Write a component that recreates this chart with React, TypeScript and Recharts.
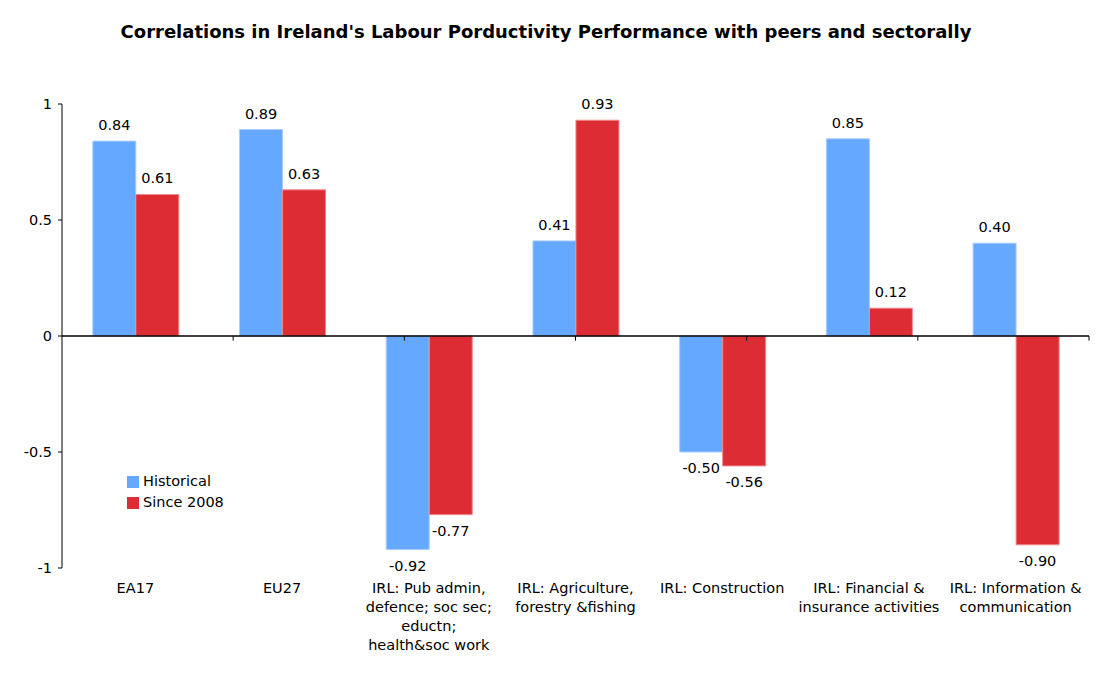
import React from 'react';
import { BarChart, Bar, XAxis, YAxis, Legend, ReferenceLine, LabelList } from 'recharts';

const categories = [
  'EA17',
  'EU27',
  'IRL: Pub admin,\ndefence; soc sec;\neductn;\nhealth&soc work',
  'IRL: Agriculture,\nforestry &fishing',
  'IRL: Construction',
  'IRL: Financial &\ninsurance activities',
  'IRL: Information &\ncommunication',
];
const historical = [0.84, 0.89, -0.92, 0.41, -0.5, 0.85, 0.4];
const since2008 = [0.61, 0.63, -0.77, 0.93, -0.56, 0.12, -0.9];
const yTicks = [-1, -0.5, 0, 0.5, 1];
const title = "Correlations in Ireland's Labour Porductivity Performance with peers and sectorally";

const data = categories.map((c, i) => ({ name: c, historical: historical[i], since2008: since2008[i] }));
const boundaries = categories.map((_, i) => i + 1);

const FONT = 'Verdana, "DejaVu Sans", sans-serif';
const FS = 14.5;

const CatTick = (props: any) => {
  const { x, y, payload } = props;
  const lines = String(payload.value).split('\n');
  return (
    <g transform={`translate(${x},${y})`}>
      {lines.map((l, i) => (
        <text key={i} x={0} y={0} dy={17 + i * 19} textAnchor="middle" fill="#000" fontSize={FS} fontFamily={FONT}>
          {l}
        </text>
      ))}
    </g>
  );
};

const fmt = (v: number) => v.toFixed(2);

export default function App() {
  return (
    <div style={{ position: 'absolute', left: 0, top: 0, width: 1096, height: 673, background: '#fff', fontFamily: FONT }}>
      <div style={{ position: 'absolute', left: 0, top: 21, width: 1092, textAlign: 'center', fontWeight: 'bold', fontSize: 18, fontFamily: FONT, color: '#000' }}>
        {title}
      </div>
      <BarChart
        width={1096}
        height={673}
        data={data}
        margin={{ top: 104, right: 7, bottom: 15, left: 0 }}
        barCategoryGap="21%"
        barGap={0}
      >
        <XAxis dataKey="name" axisLine={false} tickLine={false} tick={<CatTick />} interval={0} height={90} />
        <XAxis xAxisId="grid" type="number" domain={[0, 7]} hide allowDataOverflow />
        <YAxis
          domain={[-1, 1]}
          ticks={yTicks}
          width={62}
          axisLine={{ stroke: '#000' }}
          tickLine={{ stroke: '#000' }}
          tickSize={4}
          tickMargin={6}
          tick={{ fill: '#000', fontSize: FS, fontFamily: FONT }}
          tickFormatter={(v: number) => String(v)}
          allowDataOverflow
        />
        <Legend
          layout="vertical"
          align="center"
          verticalAlign="middle"
          iconType="square"
          iconSize={12}
          wrapperStyle={{ position: 'absolute', left: 127, top: 471, width: 150, fontSize: FS, fontFamily: FONT, lineHeight: '21px' }}
          formatter={(v: string) => <span style={{ color: '#000' }}>{v}</span>}
        />
        <Bar dataKey="historical" name="Historical" fill="#64A8FF" stroke="#A9CDFF" strokeWidth={1} isAnimationActive={false}>
          <LabelList dataKey="historical" position="top" offset={11} formatter={fmt} fill="#000" fontSize={FS} fontFamily={FONT} />
        </Bar>
        <Bar dataKey="since2008" name="Since 2008" fill="#DE2C34" stroke="#EE8A8E" strokeWidth={1} isAnimationActive={false}>
          <LabelList dataKey="since2008" position="top" offset={11} formatter={fmt} fill="#000" fontSize={FS} fontFamily={FONT} />
        </Bar>
        <ReferenceLine y={0} stroke="#000" strokeWidth={1.5} ifOverflow="visible" />
        {boundaries.map((b) => (
          <ReferenceLine
            key={b}
            xAxisId="grid"
            segment={[{ x: b, y: 0 }, { x: b, y: -0.02 }]}
            stroke="#000"
            strokeWidth={1}
            ifOverflow="visible"
          />
        ))}
      </BarChart>
    </div>
  );
}
